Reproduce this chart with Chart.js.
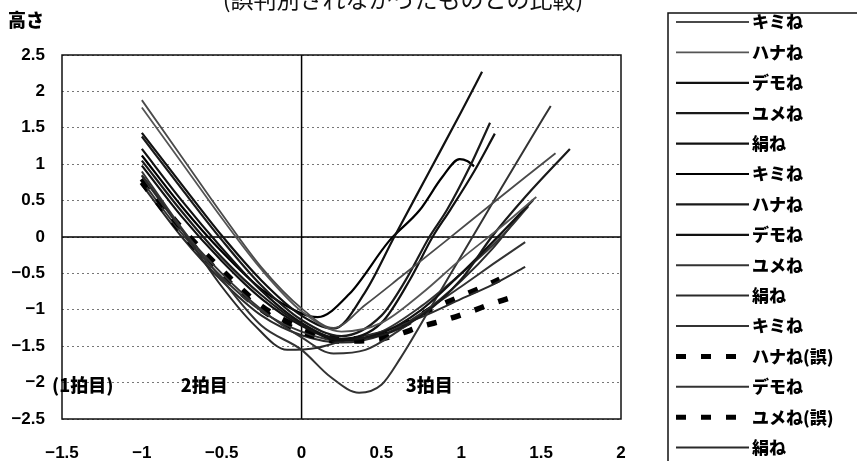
<!DOCTYPE html>
<html lang="ja">
<head>
<meta charset="utf-8">
<title>拍ごとの高さ</title>
<script src="https://cdn.jsdelivr.net/npm/chart.js@4.4.1/dist/chart.umd.min.js"></script>
<style>
  html, body { margin: 0; padding: 0; background: #fff; }
  #wrap { width: 857px; height: 461px; }
</style>
</head>
<body>
<div id="wrap"><canvas id="chart" width="857" height="461"></canvas></div>
<script>
// 凡例の名前（5人 × 3回）
const seriesNames = ['キミね', 'ハナね', 'デモね', 'ユメね', '絹ね',
                     'キミね', 'ハナね', 'デモね', 'ユメね', '絹ね',
                     'キミね', 'ハナね(誤)', 'デモね', 'ユメね(誤)', '絹ね'];

// 各曲線の [時間, 高さ]
const kimi1 = [[-1, 1.88], [-0.75, 1.1], [-0.5, 0.32], [-0.25, -0.42], [0, -0.98], [0.2, -1.25], [0.4, -0.93], [0.62, -0.55], [0.9, -0.06], [1.2, 0.47], [1.4, 0.82], [1.59, 1.15]];
const hana1 = [[-1, 1.78], [-0.75, 1.02], [-0.5, 0.26], [-0.25, -0.45], [0, -1.02], [0.25, -1.3], [0.5, -1.18], [0.75, -0.78], [1, -0.3], [1.25, 0.14], [1.47, 0.55]];
const demo1 = [[-1, 1.43], [-0.75, 0.72], [-0.5, 0.02], [-0.25, -0.6], [0, -1.08], [0.2, -1.26], [0.4, -0.75], [0.58, 0], [0.8, 0.9], [1, 1.72], [1.13, 2.27]];
const yume1 = [[-1, 1.38], [-0.75, 0.66], [-0.5, -0.04], [-0.25, -0.67], [0, -1.14], [0.25, -1.36], [0.5, -1.08], [0.65, -0.6], [0.8, 0], [0.91, 0.37], [1.05, 0.95], [1.18, 1.57]];
const kinu1 = [[-1, 1.21], [-0.75, 0.5], [-0.5, -0.15], [-0.25, -0.74], [0, -1.18], [0.25, -1.4], [0.5, -1.18], [0.68, -0.58], [0.82, 0], [0.93, 0.37], [1.08, 0.9], [1.21, 1.42]];
const kimi2 = [[-1, 1.12], [-0.75, 0.42], [-0.5, -0.2], [-0.25, -0.72], [0, -1.05], [0.1, -1.1], [0.3, -0.78], [0.55, -0.05], [0.74, 0.37], [0.88, 0.82], [0.99, 1.07], [1.04, 1.04], [1.08, 0.97]];
const hana2 = [[-1, 1.05], [-0.75, 0.35], [-0.5, -0.28], [-0.25, -0.8], [0, -1.2], [0.25, -1.4], [0.5, -1.35], [0.75, -1.08], [1, -0.58], [1.19, 0], [1.4, 0.55], [1.68, 1.21]];
const demo2 = [[-1, 0.98], [-0.75, 0.28], [-0.5, -0.33], [-0.25, -0.85], [0, -1.22], [0.25, -1.42], [0.5, -1.32], [0.75, -1], [1, -0.5], [1.25, 0.05], [1.45, 0.51]];
const yume2 = [[-1, 0.9], [-0.75, 0.12], [-0.5, -0.58], [-0.25, -1.22], [0, -1.55], [0.18, -1.92], [0.36, -2.14], [0.5, -2.03], [0.62, -1.66], [0.8, -1], [1.07, 0], [1.25, 0.67], [1.43, 1.33], [1.56, 1.8]];
const kinu2 = [[-1, 0.85], [-0.75, 0.1], [-0.5, -0.68], [-0.3, -1.2], [-0.09, -1.55], [0.1, -1.52], [0.3, -1.4], [0.5, -1.3], [0.75, -1.1], [1, -0.85], [1.2, -0.65], [1.4, -0.41]];
const kimi3 = [[-1, 0.84], [-0.75, 0.1], [-0.5, -0.5], [-0.25, -1], [0, -1.38], [0.2, -1.6], [0.4, -1.55], [0.6, -1.3], [0.8, -0.98], [1, -0.68], [1.2, -0.37], [1.4, -0.07]];
const hanaErr = [[-1, 0.8], [-0.75, 0.12], [-0.5, -0.45], [-0.25, -0.95], [0, -1.25], [0.25, -1.4], [0.5, -1.36], [0.65, -1.2], [0.82, -0.98], [0.96, -0.85], [1.11, -0.71], [1.24, -0.58]];
const demo3 = [[-1, 0.77], [-0.75, 0.05], [-0.5, -0.55], [-0.25, -1.02], [0, -1.3], [0.25, -1.43], [0.5, -1.3], [0.75, -0.95], [1, -0.5], [1.25, 0], [1.42, 0.42]];
const yumeErr = [[-1, 0.75], [-0.75, 0.06], [-0.5, -0.52], [-0.25, -1], [0, -1.3], [0.25, -1.43], [0.45, -1.42], [0.6, -1.34], [0.75, -1.23], [0.9, -1.14], [1.05, -1.03], [1.2, -0.91], [1.36, -0.8]];
const kinu3 = [[-1, 0.72], [-0.75, 0], [-0.5, -0.6], [-0.25, -1.08], [0, -1.35], [0.25, -1.45], [0.5, -1.35], [0.75, -1.05], [1, -0.6], [1.2, -0.15], [1.38, 0.35]];

const seriesPoints = [kimi1, hana1, demo1, yume1, kinu1, kimi2, hana2, demo2, yume2, kinu2, kimi3, hanaErr, demo3, yumeErr, kinu3];

// 目盛り
const xTicks = [-1.5, -1, -0.5, 0, 0.5, 1, 1.5, 2];
const yTicks = [-2.5, -2, -1.5, -1, -0.5, 0, 0.5, 1, 1.5, 2, 2.5];

// 線の見た目
const lineColors = ['#4a4a4a', '#555', '#111', '#1a1a1a', '#111', '#000', '#1a1a1a', '#111',
                    '#333', '#2a2a2a', '#333', '#000', '#333', '#000', '#2a2a2a'];
const lineWidths = [1.8, 1.8, 2.2, 2.2, 2.2, 2.2, 2.2, 2.2, 2, 2, 2, 5.5, 2, 5.5, 2];
const dashed = [false, false, false, false, false, false, false, false, false, false, false, true, false, true, false];

const numFont = '"Liberation Sans", Arial, sans-serif';
const jpFont = '"Noto Sans CJK JP", sans-serif';

const fmt = v => String(v).replace('-', '\u2212');

// 0の線、枠、拍のラベル、題、凡例
const decorations = {
  id: 'decorations',
  beforeDatasetsDraw(chart) {
    const { ctx, chartArea: a, scales: { x, y } } = chart;
    ctx.save();
    ctx.strokeStyle = '#000';
    ctx.lineWidth = 1.5;
    ctx.beginPath();
    const y0 = y.getPixelForValue(0);
    const x0 = x.getPixelForValue(0);
    ctx.moveTo(a.left, y0); ctx.lineTo(a.right, y0);
    ctx.moveTo(x0, a.top); ctx.lineTo(x0, a.bottom);
    ctx.stroke();
    ctx.restore();
  },
  afterDatasetsDraw(chart) {
    const { ctx, chartArea: a, scales: { x, y } } = chart;
    ctx.save();
    ctx.strokeStyle = '#111';
    ctx.lineWidth = 1.5;
    ctx.strokeRect(a.left, a.top, a.right - a.left, a.bottom - a.top);

    ctx.fillStyle = '#000';
    ctx.font = '900 18px ' + jpFont;
    ctx.textAlign = 'center';
    ctx.textBaseline = 'middle';
    const ly = y.getPixelForValue(-2) + 3;
    ctx.fillText('(1拍目)', x.getPixelForValue(-1.37), ly);
    ctx.fillText('2拍目', x.getPixelForValue(-0.61), ly);
    ctx.fillText('3拍目', x.getPixelForValue(0.8), ly);
    ctx.restore();
  },
  afterDraw(chart) {
    const { ctx } = chart;
    ctx.save();
    ctx.fillStyle = '#111';
    ctx.font = '23px ' + jpFont;
    ctx.textAlign = 'center';
    ctx.textBaseline = 'alphabetic';
    ctx.fillText('(誤判別されなかったものとの比較)', 403, 8);

    ctx.fillStyle = '#000';
    ctx.font = '900 18px ' + jpFont;
    ctx.textAlign = 'left';
    ctx.textBaseline = 'middle';
    ctx.fillText('高さ', 8, 20);

    // 凡例
    ctx.strokeStyle = '#111';
    ctx.lineWidth = 1.5;
    ctx.strokeRect(668, 13, 300, 500);
    ctx.font = '900 17px ' + jpFont;
    chart.data.datasets.forEach((ds, i) => {
      const ry = 22 + i * 30.4;
      ctx.strokeStyle = ds.borderColor;
      ctx.lineWidth = Math.min(ds.borderWidth, 5);
      ctx.setLineDash(ds.borderDash);
      ctx.beginPath();
      ctx.moveTo(676, ry);
      ctx.lineTo(749, ry);
      ctx.stroke();
      ctx.setLineDash([]);
      ctx.fillStyle = '#000';
      ctx.fillText(ds.label, 752, ry);
    });
    ctx.restore();
  }
};

const datasets = seriesNames.map((name, i) => ({
  label: name,
  data: seriesPoints[i].map(([px, py]) => ({ x: px, y: py })),
  borderColor: lineColors[i],
  borderWidth: lineWidths[i],
  borderDash: dashed[i] ? [10, 15] : [],
  showLine: true,
  pointRadius: 0,
  cubicInterpolationMode: 'monotone',
  fill: false
}));

new Chart(document.getElementById('chart'), {
  type: 'scatter',
  data: { datasets },
  options: {
    responsive: false,
    animation: false,
    devicePixelRatio: 1,
    layout: { padding: { top: 55, right: 236, left: 0, bottom: 0 } },
    plugins: { legend: { display: false }, tooltip: { enabled: false } },
    scales: {
      x: {
        type: 'linear',
        min: -1.5,
        max: 2,
        afterBuildTicks: s => { s.ticks = xTicks.map(v => ({ value: v })); },
        afterFit: s => { s.height = 42; },
        grid: { display: false },
        border: { display: false },
        ticks: {
          autoSkip: false,
          maxRotation: 0,
          padding: 16,
          color: '#000',
          font: { family: numFont, size: 17, weight: 'bold' },
          callback: v => fmt(v)
        }
      },
      y: {
        type: 'linear',
        min: -2.5,
        max: 2.5,
        afterBuildTicks: s => { s.ticks = yTicks.map(v => ({ value: v })); },
        afterFit: s => { s.width = 62; },
        grid: { color: '#777', lineWidth: 1, drawTicks: false },
        border: { display: false, dash: [2, 3] },
        ticks: {
          autoSkip: false,
          padding: 17,
          color: '#000',
          font: { family: numFont, size: 17, weight: 'bold' },
          callback: v => fmt(v)
        }
      }
    }
  },
  plugins: [decorations]
});
</script>
</body>
</html>
